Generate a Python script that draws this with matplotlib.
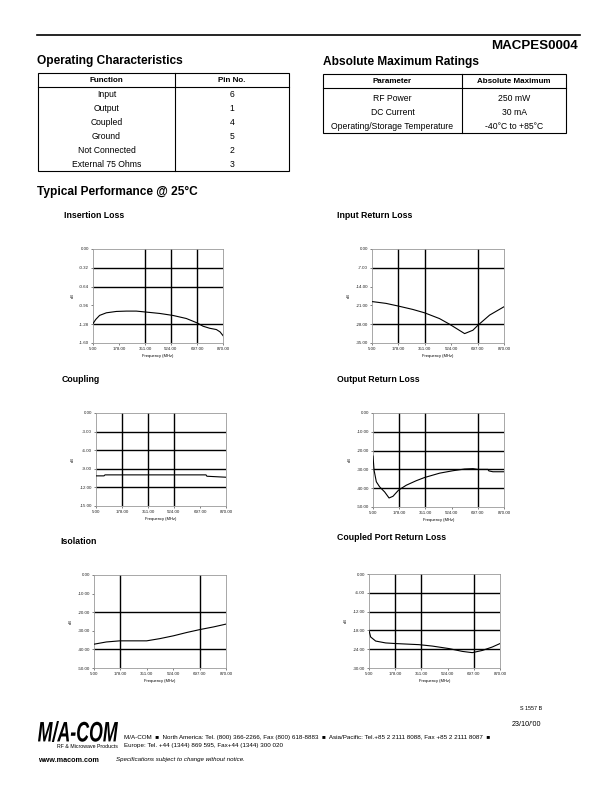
import matplotlib
matplotlib.use("Agg")
import matplotlib.pyplot as plt
from matplotlib.patches import Rectangle, PathPatch
from matplotlib.textpath import TextPath
from matplotlib.font_manager import FontProperties
from matplotlib.transforms import Affine2D

plt.rcParams['font.family'] = ['Liberation Sans', 'DejaVu Sans']

# ---- table data
op_functions = ["Input", "Output", "Coupled", "Ground", "Not Connected", "External 75 Ohms"]
op_pins = ["6", "1", "4", "5", "2", "3"]
abs_params = ["RF Power", "DC Current", "Operating/Storage Temperature"]
abs_values = ["250 mW", "30 mA", "-40\u00b0C to +85\u00b0C"]

# ---- frequency axis (MHz)
freq_ticks = [5, 178, 351, 524, 697, 870]

# Insertion loss (dB)
il_f = [5, 23, 49, 94, 160, 227, 293, 360, 449, 537, 626, 697, 737, 781, 826, 850, 870]
il_db = [-1.27, -1.20, -1.13, -1.086, -1.063, -1.057, -1.057, -1.074, -1.097, -1.131,
         -1.183, -1.257, -1.314, -1.349, -1.371, -1.41, -1.474]

# Input return loss (dB)
irl_f = [9, 97, 178, 272, 349, 447, 513, 612, 666, 699, 776, 870]
irl_db = [-19.6, -20.25, -21.25, -22.5, -23.75, -25.9, -28.0, -31.5, -30.25, -28.4, -24.6, -21.5]

# Coupling (dB)
cpl_f = [5, 58, 65, 737, 743, 870]
cpl_db = [-10.14, -10.14, -9.98, -9.98, -10.2, -10.36]

# Output return loss (dB)
orl_f = [5, 12, 27, 49, 82, 111, 137, 174, 225, 291, 346, 445, 533, 610, 665, 698, 764, 770, 797, 870]
orl_db = [-22.9, -30.4, -36.6, -39.3, -42.0, -45.2, -44.3, -41.0, -38.4, -36.0, -34.3, -32.0,
          -30.7, -29.8, -29.6, -30.0, -30.0, -30.8, -31.25, -31.25]

# Isolation (dB)
iso_f = [5, 86, 174, 350, 437, 525, 613, 701, 789, 870]
iso_db = [-37.2, -36.0, -35.4, -35.4, -34.2, -32.7, -30.9, -29.3, -27.9, -26.4]

# Coupled port return loss (dB)
cprl_f = [5, 16, 49, 115, 181, 335, 423, 533, 621, 687, 753, 819, 870]
cprl_db = [-18.0, -20.1, -21.4, -22.0, -22.2, -22.55, -23.0, -23.8, -24.7, -25.1, -24.4, -23.3, -22.2]

W, H = 612, 792
fig = plt.figure(figsize=(W / 100, H / 100), dpi=100)

bg = fig.add_axes([0, 0, 1, 1])
bg.set_xlim(0, W)
bg.set_ylim(H, 0)
bg.axis('off')


def px_axes(l, t, r, b):
    return fig.add_axes([l / W, 1 - b / H, (r - l) / W, (b - t) / H])


# header
bg.plot([37, 580], [35, 35], color='black', lw=1.2)
bg.text(578, 46, "MACPES0004", ha='right', va='center', fontsize=9.6, weight='bold')
bg.text(37, 61, "Operating Characteristics", ha='left', va='center', fontsize=8.6, weight='bold')
bg.text(323, 62, "Absolute Maximum Ratings", ha='left', va='center', fontsize=8.6, weight='bold')


def draw_table(left, mid, right, top, head_bot, bottom, heads, col1, col2, row_y):
    bg.add_patch(Rectangle((left, top), right - left, bottom - top, fill=False, ec='black', lw=0.8))
    bg.plot([left, right], [head_bot, head_bot], color='black', lw=0.8)
    bg.plot([mid, mid], [top, bottom], color='black', lw=0.8)
    hy = (top + head_bot) / 2 + 0.5
    bg.text((left + mid) / 2, hy, heads[0], ha='center', va='center', fontsize=5.8, weight='bold')
    bg.text((mid + right) / 2, hy, heads[1], ha='center', va='center', fontsize=5.8, weight='bold')
    for a, b, y in zip(col1, col2, row_y):
        bg.text((left + mid) / 2, y + 1.2, a, ha='center', va='center', fontsize=6.2)
        bg.text((mid + right) / 2, y + 1.2, b, ha='center', va='center', fontsize=6.2)


draw_table(38, 175, 289, 73, 87, 171, ["Function", "Pin No."], op_functions, op_pins,
           [93, 107, 121, 135, 149, 163])
draw_table(323, 462, 566, 74, 88, 133, ["Parameter", "Absolute Maximum"], abs_params, abs_values,
           [97, 111, 125])

bg.text(37, 192, "Typical Performance @ 25\u00b0C", ha='left', va='center', fontsize=8.6, weight='bold')

charts = [
    # title, title pos, axes box, x, y, ymin, yticks, v-grid, h-grid
    ("Insertion Loss", (64, 215), (93, 249, 223, 343), il_f, il_db, -1.60,
     [0, -0.32, -0.64, -0.96, -1.28, -1.60], [351, 524, 697], [-0.32, -0.64, -1.28]),
    ("Input Return Loss", (337, 215), (372, 249, 504, 343), irl_f, irl_db, -35,
     [0, -7, -14, -21, -28, -35], [178, 351, 697], [-7, -28]),
    ("Coupling", (62, 380), (96, 413, 226, 506), cpl_f, cpl_db, -15,
     [0, -3, -6, -9, -12, -15], [178, 351, 524], [-3, -6, -9, -12]),
    ("Output Return Loss", (337, 380), (373, 413, 504, 507), orl_f, orl_db, -50,
     [0, -10, -20, -30, -40, -50], [178, 351, 697], [-10, -20, -30, -40]),
    ("Isolation", (60, 541), (94, 575, 226, 668), iso_f, iso_db, -50,
     [0, -10, -20, -30, -40, -50], [178, 697], [-20, -40]),
    ("Coupled Port Return Loss", (337, 538), (369, 574, 500, 668), cprl_f, cprl_db, -30,
     [0, -6, -12, -18, -24, -30], [178, 351, 697], [-6, -12, -18, -24]),
]

for title, tpos, box, xs, ys, ymin, yticks, vgrid, hgrid in charts:
    bg.text(tpos[0], tpos[1], title, ha='left', va='center', fontsize=6.3, weight='bold')
    ax = px_axes(*box)
    ax.set_xlim(5, 870)
    ax.set_ylim(ymin, 0)
    for v in vgrid:
        ax.axvline(v, color='black', lw=1.0, zorder=1)
    for h in hgrid:
        ax.axhline(h, color='black', lw=1.0, zorder=1)
    ax.plot(xs, ys, color='black', lw=0.8, zorder=3)
    ax.set_xticks(freq_ticks)
    ax.set_xticklabels(["%.2f" % t for t in freq_ticks])
    ax.set_yticks(yticks)
    ax.set_yticklabels(["%.2f" % t for t in yticks])
    ax.tick_params(labelsize=3.2, length=1.5, width=0.4, pad=1.5, colors='#222222')
    for s in ax.spines.values():
        s.set_color('#999999')
        s.set_linewidth(0.6)
    ax.set_xlabel("Frequency (MHz)", fontsize=2.9, labelpad=2)
    ax.set_ylabel("dB", fontsize=2.9, labelpad=3)

# footer
logo_font = FontProperties(family='Liberation Sans', weight='bold', style='italic')
tp = TextPath((0, 0), "M/A-COM", size=10, prop=logo_font)
ext = tp.get_extents()
sx = (118 - 38) / ext.width
sy = (742 - 721) / ext.height
tr = Affine2D().translate(-ext.x0, -ext.y0).scale(sx, -sy).translate(38, 742)
bg.add_patch(PathPatch(tr.transform_path(tp), color='black', lw=0))
bg.text(118, 746, "RF & Microwave Products", ha='right', va='center', fontsize=3.8)

bg.text(124, 737, "M/A-COM  \u25a0  North America: Tel. (800) 366-2266, Fax (800) 618-8883  \u25a0  "
        "Asia/Pacific: Tel.+85 2 2111 8088, Fax +85 2 2111 8087  \u25a0",
        ha='left', va='center', fontsize=4.5)
bg.text(124, 745, "Europe: Tel. +44 (1344) 869 595, Fax+44 (1344) 300 020",
        ha='left', va='center', fontsize=4.5)
bg.text(38, 761, "www.macom.com", ha='left', va='center', fontsize=5.2, weight='bold')
bg.text(116, 760, "Specifications subject to change without notice.", ha='left', va='center',
        fontsize=4.4, style='italic')
bg.text(520, 709, "S 1557 B", ha='left', va='center', fontsize=3.9)
bg.text(512, 724, "23/10/'00", ha='left', va='center', fontsize=5.2)

fig.savefig("out.png", dpi=100)
